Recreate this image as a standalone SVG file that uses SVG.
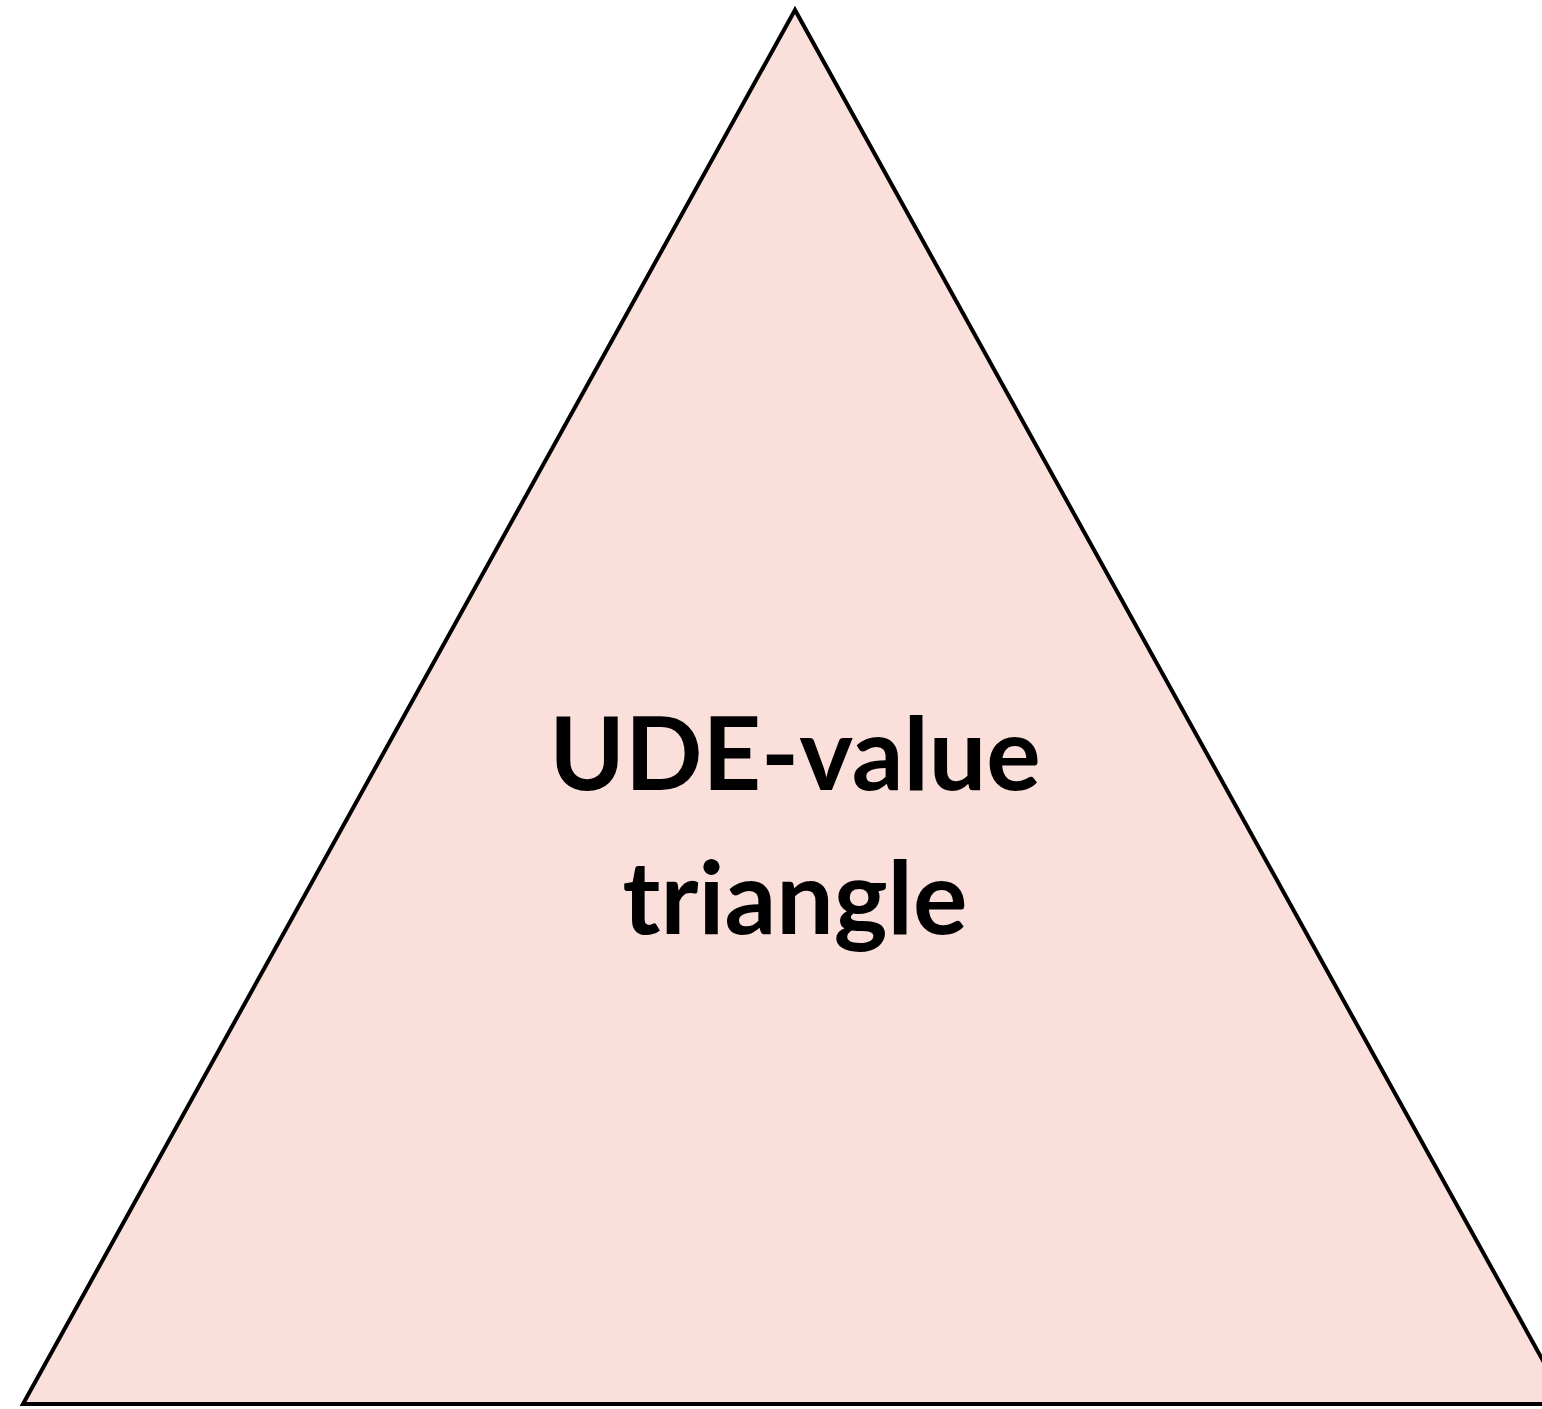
<svg xmlns="http://www.w3.org/2000/svg" width="1542" height="1409" viewBox="0 0 1542 1409">
<style>
.tri{fill:#fadfdb;stroke:#000;stroke-width:4;stroke-linejoin:miter}
.lbl{font-family:"Lato","Liberation Sans",sans-serif;font-weight:bold;font-size:102px;fill:#000;text-anchor:middle}
</style>
<rect width="1542" height="1409" fill="#fff"/>
<g id="triangle">
<polygon class="tri" points="795,10 23,1404 1567,1404"/>
<text class="lbl" x="795" y="790">UDE-value</text>
<text class="lbl" x="795" y="934">triangle</text>
</g>
</svg>
